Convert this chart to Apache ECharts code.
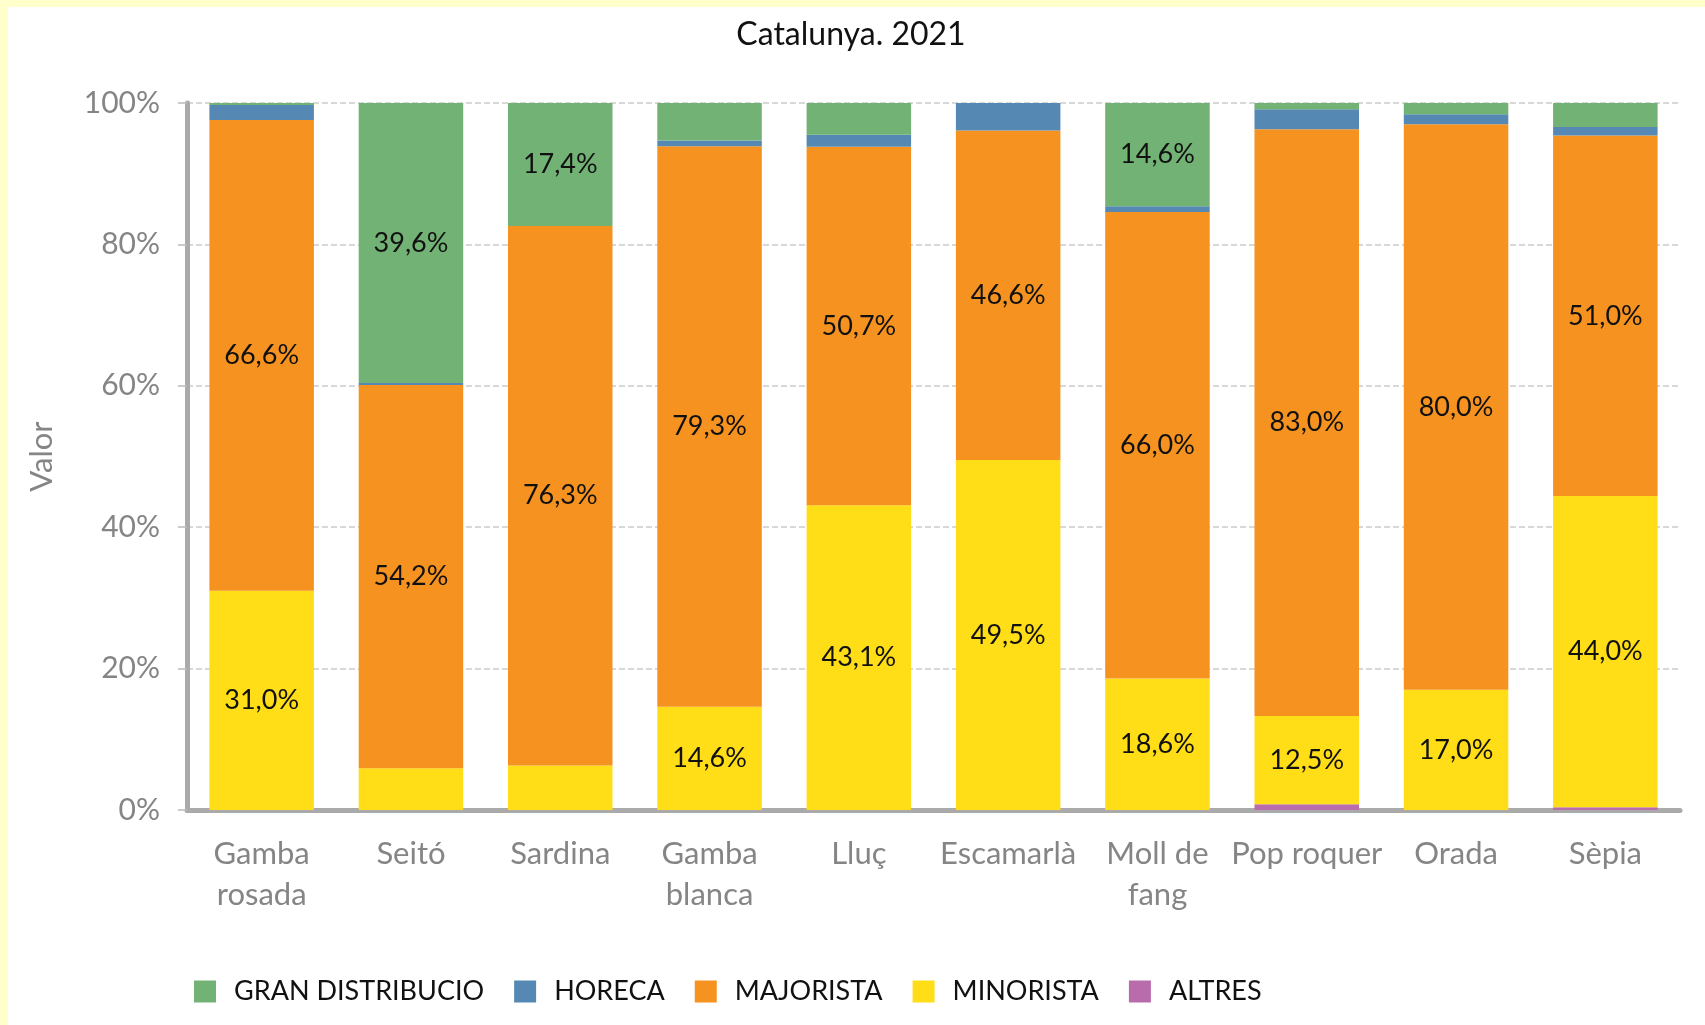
<!DOCTYPE html>
<html>
<head>
<meta charset="utf-8">
<script src="https://cdn.jsdelivr.net/npm/echarts@6/dist/echarts.min.js"></script>
<style>
  html, body { margin: 0; padding: 0; background: #FFFFCC; }
  #chart { width: 1705px; height: 1025px; }
</style>
</head>
<body>
<div id="chart"></div>
<script>
// categories (x axis)
const categories = ['Gamba\nrosada', 'Seitó', 'Sardina', 'Gamba\nblanca', 'Lluç', 'Escamarlà', 'Moll de\nfang', 'Pop roquer', 'Orada', 'Sèpia']

// % per canal, bottom to top
const altres    = [0.0, 0.0, 0.0, 0.0, 0.0, 0.0, 0.0, 0.8, 0.0, 0.4]
const minorista = [31.0, 5.9, 6.3, 14.6, 43.1, 49.5, 18.6, 12.5, 17.0, 44.0]
const majorista = [66.6, 54.2, 76.3, 79.3, 50.7, 46.6, 66.0, 83.0, 80.0, 51.0]
const horeca    = [2.1, 0.3, 0.0, 0.8, 1.7, 3.9, 0.8, 2.8, 1.4, 1.2]
const granDist  = [0.3, 39.6, 17.4, 5.3, 4.5, 0.0, 14.6, 0.9, 1.6, 3.4]

const yTicks = [0, 20, 40, 60, 80, 100]

const chart = echarts.init(document.getElementById('chart'))

// les etiquetes només es mostren per als trams grans
const labelFmt = p => p.value >= 10 ? p.value.toFixed(1).replace('.', ',') + '%' : ''

function serie(name, data, color) {
    return {
        name: name,
        type: 'bar',
        stack: 'total',
        data: data,
        barCategoryGap: '30%',
        itemStyle: { color: color },
        label: {
            show: true,
            position: 'inside',
            formatter: labelFmt,
            color: '#111',
            fontFamily: 'Lato',
            fontSize: 27
        },
        emphasis: { disabled: true }
    }
}

const option = {
    backgroundColor: '#FFFFCC',
    animation: false,
    textStyle: { fontFamily: 'Lato' },
    graphic: [{
        type: 'rect',
        z: -10,
        shape: { x: 8, y: 7, width: 1705, height: 1025 },
        style: { fill: '#ffffff' }
    }],
    title: {
        text: 'Catalunya. 2021',
        left: 846,
        top: 14,
        textAlign: 'center',
        textStyle: { fontFamily: 'Lato', fontSize: 32, fontWeight: 'normal', color: '#111' }
    },
    legend: {
        data: ['GRAN DISTRIBUCIO', 'HORECA', 'MAJORISTA', 'MINORISTA', 'ALTRES'],
        left: 189,
        top: 973,
        icon: 'rect',
        itemWidth: 22,
        itemHeight: 22,
        itemGap: 30,
        textStyle: { fontFamily: 'Lato', fontSize: 27, color: '#111', padding: [0, 0, 0, 13] }
    },
    grid: { left: 187, right: 25, top: 103, bottom: 215 },
    xAxis: {
        type: 'category',
        data: categories,
        axisLine: { lineStyle: { color: '#aaaaaa', width: 5 } },
        axisTick: { show: false },
        axisLabel: {
            interval: 0,
            margin: 23,
            color: '#858585',
            fontFamily: 'Lato',
            fontSize: 31,
            lineHeight: 41
        }
    },
    yAxis: {
        type: 'value',
        min: yTicks[0],
        max: yTicks[yTicks.length - 1],
        interval: 20,
        name: 'Valor',
        nameLocation: 'middle',
        nameGap: 130,
        nameTextStyle: { color: '#858585', fontFamily: 'Lato', fontSize: 31 },
        axisLine: { show: true, lineStyle: { color: '#aaaaaa', width: 5 } },
        axisTick: { show: true, length: 9, lineStyle: { color: '#bbbbbb', width: 1.5 } },
        axisLabel: {
            margin: 27,
            color: '#858585',
            fontFamily: 'Lato',
            fontSize: 30,
            formatter: '{value}%'
        },
        splitLine: { lineStyle: { color: '#cccccc', type: 'dashed', width: 1.5 } }
    },
    series: [
        serie('ALTRES', altres, '#B86CAB'),
        serie('MINORISTA', minorista, '#FFDD17'),
        serie('MAJORISTA', majorista, '#F69320'),
        serie('HORECA', horeca, '#5589B4'),
        serie('GRAN DISTRIBUCIO', granDist, '#72B274')
    ]
}

chart.setOption(option)
</script>
</body>
</html>
